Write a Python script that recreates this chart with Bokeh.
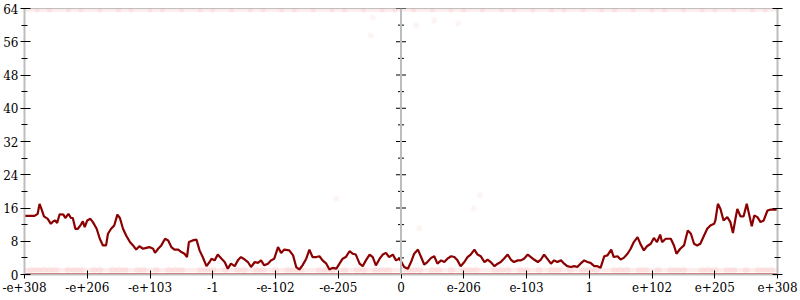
from bokeh.plotting import figure
from bokeh.models import FixedTicker, LinearAxis, Span
from bokeh.embed import file_html
from bokeh.resources import INLINE

# ---- data ----
x_tick_values = [-6, -5, -4, -3, -2, -1, 0, 1, 2, 3, 4, 5, 6]
x_tick_labels = ["-e+308", "-e+206", "-e+103", "-1", "-e-102", "-e-205", "0",
                 "e-206", "e-103", "1", "e+102", "e+205", "e+308"]
y_major = [0, 8, 16, 24, 32, 40, 48, 56, 64]
y_minor = [4, 12, 20, 28, 36, 44, 52, 60]

line_x = [
    -6.00, -5.84, -5.79, -5.76, -5.73, -5.69, -5.63, -5.58, -5.54, -5.51, -5.48, -5.44,
    -5.38, -5.35, -5.30, -5.26, -5.23, -5.19, -5.15, -5.10, -5.07, -5.04, -5.00, -4.95,
    -4.91, -4.85, -4.80, -4.75, -4.70, -4.67, -4.62, -4.57, -4.52, -4.48, -4.43, -4.38,
    -4.32, -4.27, -4.22, -4.17, -4.11, -4.06, -4.01, -3.95, -3.92, -3.87, -3.82, -3.76,
    -3.71, -3.66, -3.61, -3.55, -3.50, -3.45, -3.41, -3.38, -3.32, -3.26, -3.21, -3.16,
    -3.10, -3.05,
    -3.02, -2.97, -2.92, -2.86, -2.81, -2.76, -2.71, -2.65, -2.60, -2.55, -2.49, -2.44,
    -2.39, -2.33, -2.28, -2.23, -2.18, -2.12, -2.07, -2.02, -1.96, -1.91, -1.86, -1.78,
    -1.72, -1.67, -1.62, -1.57, -1.51, -1.46, -1.41, -1.35, -1.30, -1.25, -1.19, -1.14,
    -1.09, -1.03, -0.98, -0.93, -0.88, -0.82, -0.77, -0.72, -0.66, -0.61, -0.56, -0.50,
    -0.45, -0.40, -0.34, -0.29, -0.24, -0.19, -0.13, -0.08, -0.03,
    0.00, 0.05, 0.11, 0.16, 0.21, 0.27, 0.32, 0.37, 0.42, 0.48, 0.53, 0.58,
    0.64, 0.69, 0.74, 0.80, 0.85, 0.90, 0.95, 1.01, 1.06, 1.11, 1.17, 1.22,
    1.27, 1.33, 1.38, 1.43, 1.49, 1.54, 1.59, 1.64, 1.70, 1.75, 1.80, 1.86,
    1.91, 1.96, 2.02, 2.07, 2.12, 2.18, 2.23, 2.28, 2.33, 2.39, 2.44, 2.49,
    2.55, 2.60, 2.65, 2.71, 2.76, 2.81, 2.86, 2.92, 2.97,
    3.02, 3.08, 3.13, 3.18, 3.24, 3.29, 3.35, 3.39, 3.45, 3.50, 3.55, 3.61,
    3.66, 3.71, 3.77, 3.82, 3.87, 3.92, 3.98, 4.03, 4.08, 4.13, 4.16, 4.22,
    4.30, 4.35, 4.39, 4.45, 4.51, 4.57, 4.62, 4.67, 4.72, 4.77, 4.83, 4.88,
    4.93, 4.99, 5.01, 5.05, 5.09, 5.14, 5.20, 5.25, 5.29, 5.33, 5.36, 5.41,
    5.46, 5.51, 5.54, 5.59, 5.63, 5.68, 5.73, 5.78, 5.84, 5.89, 6.00,
]
line_y = [
    14.1, 14.1, 14.6, 17.0, 15.8, 14.0, 13.4, 12.2, 12.8, 13.0, 12.4, 14.5,
    14.4, 13.6, 14.6, 13.6, 13.6, 11.0, 11.0, 12.0, 12.8, 11.4, 13.0, 13.4,
    12.6, 11.0, 8.6, 7.0, 7.0, 9.8, 11.0, 11.8, 14.4, 13.6, 11.0, 9.4,
    7.8, 7.0, 6.0, 6.8, 6.2, 6.4, 6.6, 6.2, 5.2, 6.2, 7.0, 8.6,
    8.2, 6.6, 6.0, 6.0, 5.4, 5.0, 4.2, 7.8, 8.2, 8.4, 5.8, 4.2,
    2.0, 3.0,
    3.8, 3.4, 4.8, 3.8, 3.0, 1.4, 2.6, 2.0, 3.4, 4.2, 3.6, 3.0,
    1.8, 3.0, 2.8, 3.4, 2.2, 2.6, 3.4, 3.8, 6.6, 5.2, 6.0, 5.8,
    4.6, 1.8, 1.2, 2.2, 3.8, 6.0, 4.2, 4.2, 4.4, 3.4, 2.6, 1.2,
    1.6, 1.4, 2.6, 3.8, 4.2, 5.6, 5.0, 4.8, 2.6, 2.0, 3.4, 4.8,
    4.2, 2.2, 3.8, 4.8, 5.2, 4.2, 4.8, 3.4, 3.8,
    3.2, 1.8, 1.4, 3.0, 5.0, 6.0, 4.2, 2.4, 3.0, 4.0, 4.4, 2.6,
    3.4, 3.0, 3.8, 4.4, 4.2, 3.4, 2.0, 3.0, 4.2, 4.8, 6.0, 4.8,
    4.4, 3.0, 3.6, 3.0, 2.0, 2.6, 3.0, 3.8, 4.8, 3.6, 3.0, 3.4,
    3.4, 3.8, 4.8, 4.2, 3.6, 3.0, 3.6, 4.8, 3.8, 2.6, 3.4, 3.0,
    3.4, 2.6, 2.0, 1.8, 2.0, 1.8, 2.6, 3.4, 3.0,
    2.8, 2.0, 2.0, 1.6, 4.4, 4.6, 6.0, 4.2, 4.4, 3.6, 4.0, 5.0,
    6.2, 7.8, 9.0, 7.2, 5.8, 6.8, 7.4, 8.8, 7.8, 9.6, 7.8, 8.6,
    8.6, 7.0, 5.0, 6.2, 7.0, 10.6, 9.8, 7.4, 7.0, 7.4, 9.4, 11.0,
    11.8, 12.2, 13.0, 17.0, 15.8, 13.0, 13.8, 12.6, 10.0, 13.4, 15.8, 14.0,
    14.0, 17.0, 15.0, 11.6, 14.2, 13.8, 12.6, 13.0, 15.4, 15.6, 15.6,
]

# faint sample dots: the band just above zero, the band at the top, strays
band_low_x = [-5.9, -5.8, -5.7, -5.6, -5.5, -5.3, -5.2, -5.1, -4.9, -4.8, -4.6, -4.5,
              -4.4, -4.2, -4.1, -3.9, -3.7, -3.6, -3.5, -3.2, -3.1, -3.0, -2.8, -2.6,
              -2.5, -2.3, -2.2, -2.0, -1.8, -1.7, -1.6, -1.3, -1.2, -1.1, -0.9, -0.7,
              -0.6, -0.4, -0.3, -0.2, 0.1, 0.2, 0.3, 0.5, 0.6, 0.8, 1.0, 1.1, 1.2,
              1.5, 1.6, 1.7, 1.9, 2.0, 2.2, 2.4, 2.5, 2.7, 2.9, 3.0, 3.1, 3.4, 3.5,
              3.6, 3.8, 3.9, 4.1, 4.3, 4.4, 4.5, 4.8, 4.9, 5.0, 5.2, 5.3, 5.5, 5.7,
              5.8, 5.9]
band_low_y = [1.1] * len(band_low_x)
band_top_x = [-5.8, -5.6, -5.3, -5.1, -4.8, -4.5, -4.3, -4.0, -3.8, -3.5, -3.2, -3.0,
              -2.7, -2.4, -2.2, -1.9, -1.7, -1.4, -1.1, -0.9, -0.6, -0.3, -0.1, 0.2,
              0.5, 0.8, 1.0, 1.3, 1.6, 1.8, 2.1, 2.4, 2.6, 2.9, 3.2, 3.4, 3.7, 4.0,
              4.2, 4.5, 4.8, 5.0, 5.3, 5.6, 5.8]
band_top_y = [63.6] * len(band_top_x)
stray_x = [-0.45, -0.48, 0.24, 0.53, 0.91, 0.29, 1.16, 1.26, -1.03]
stray_y = [61.8, 57.5, 59.9, 61.1, 60.4, 11.1, 15.9, 19.0, 18.3]

# ---- figure ----
p = figure(width=800, height=300, x_range=(x_tick_values[0], x_tick_values[-1]),
           y_range=(y_major[0], y_major[-1]), output_backend="svg",
           toolbar_location=None, min_border_left=23, min_border_right=23,
           min_border_top=8, min_border_bottom=26)
p.background_fill_color = "white"
p.border_fill_color = "white"
p.outline_line_color = "#c0c0c0"
p.outline_line_width = 1
p.xgrid.grid_line_color = None
p.ygrid.grid_line_color = None

FONT = "'DejaVu Serif', 'Liberation Serif', serif"
AXIS_GRAY = "#bdbdbd"

p.xaxis.ticker = FixedTicker(ticks=x_tick_values)
p.xaxis.major_label_overrides = {v: s for v, s in zip(x_tick_values, x_tick_labels)}
p.xaxis.minor_tick_line_color = None
p.xaxis.major_tick_in = 4
p.xaxis.major_tick_out = 4
p.xaxis.major_label_standoff = 3
p.xaxis.axis_line_color = AXIS_GRAY
p.xaxis.axis_line_width = 2

p.yaxis.ticker = FixedTicker(ticks=y_major, minor_ticks=y_minor)
p.yaxis.major_tick_in = 6
p.yaxis.major_tick_out = 4
p.yaxis.minor_tick_in = 3
p.yaxis.minor_tick_out = 3
p.yaxis.major_label_standoff = 2
p.yaxis.axis_line_color = AXIS_GRAY
p.yaxis.axis_line_width = 2

ra = LinearAxis(ticker=FixedTicker(ticks=y_major, minor_ticks=y_minor),
                major_label_overrides={v: "" for v in y_major})
ra.major_tick_in = 5
ra.major_tick_out = 5
ra.minor_tick_in = 3
ra.minor_tick_out = 3
ra.axis_line_color = AXIS_GRAY
ra.axis_line_width = 2
p.add_layout(ra, "right")

for ax in p.axis:
    ax.major_label_text_font = FONT
    ax.major_label_text_font_size = "12px"
    ax.major_label_text_color = "black"
    ax.major_tick_line_color = "black"
    ax.minor_tick_line_color = "black" if ax in p.yaxis else None

# center axis at zero
p.add_layout(Span(location=0, dimension="height", line_color=AXIS_GRAY, line_width=2))
p.scatter(x=[0] * len(y_major), y=y_major, marker="dash", size=10,
          line_color="black", line_width=1)
p.scatter(x=[0] * len(y_minor), y=y_minor, marker="dash", size=6,
          line_color="black", line_width=1)

# faint dot clouds
p.line([x_tick_values[0], x_tick_values[-1]], [band_low_y[0], band_low_y[0]],
       line_color="#f08080", line_width=4, line_alpha=0.15)
p.scatter(band_low_x, band_low_y, size=7, fill_color="#e8403f", line_color=None, fill_alpha=0.07)
p.line([x_tick_values[0], x_tick_values[-1]], [band_top_y[0], band_top_y[0]],
       line_color="#f08080", line_width=3, line_alpha=0.15)
p.scatter(band_top_x, band_top_y, size=5, fill_color="#e8403f", line_color=None, fill_alpha=0.07)
p.scatter(stray_x, stray_y, size=6, fill_color="#e8403f", line_color=None, fill_alpha=0.06)
p.line([x_tick_values[0], x_tick_values[-1]], [y_major[0], y_major[0]],
       line_color="#dd3535", line_width=3, line_alpha=0.9)

# main line
p.line(line_x, line_y, line_color="#8b0000", line_width=2.2)

open("out.html", "w").write(file_html(p, INLINE))
